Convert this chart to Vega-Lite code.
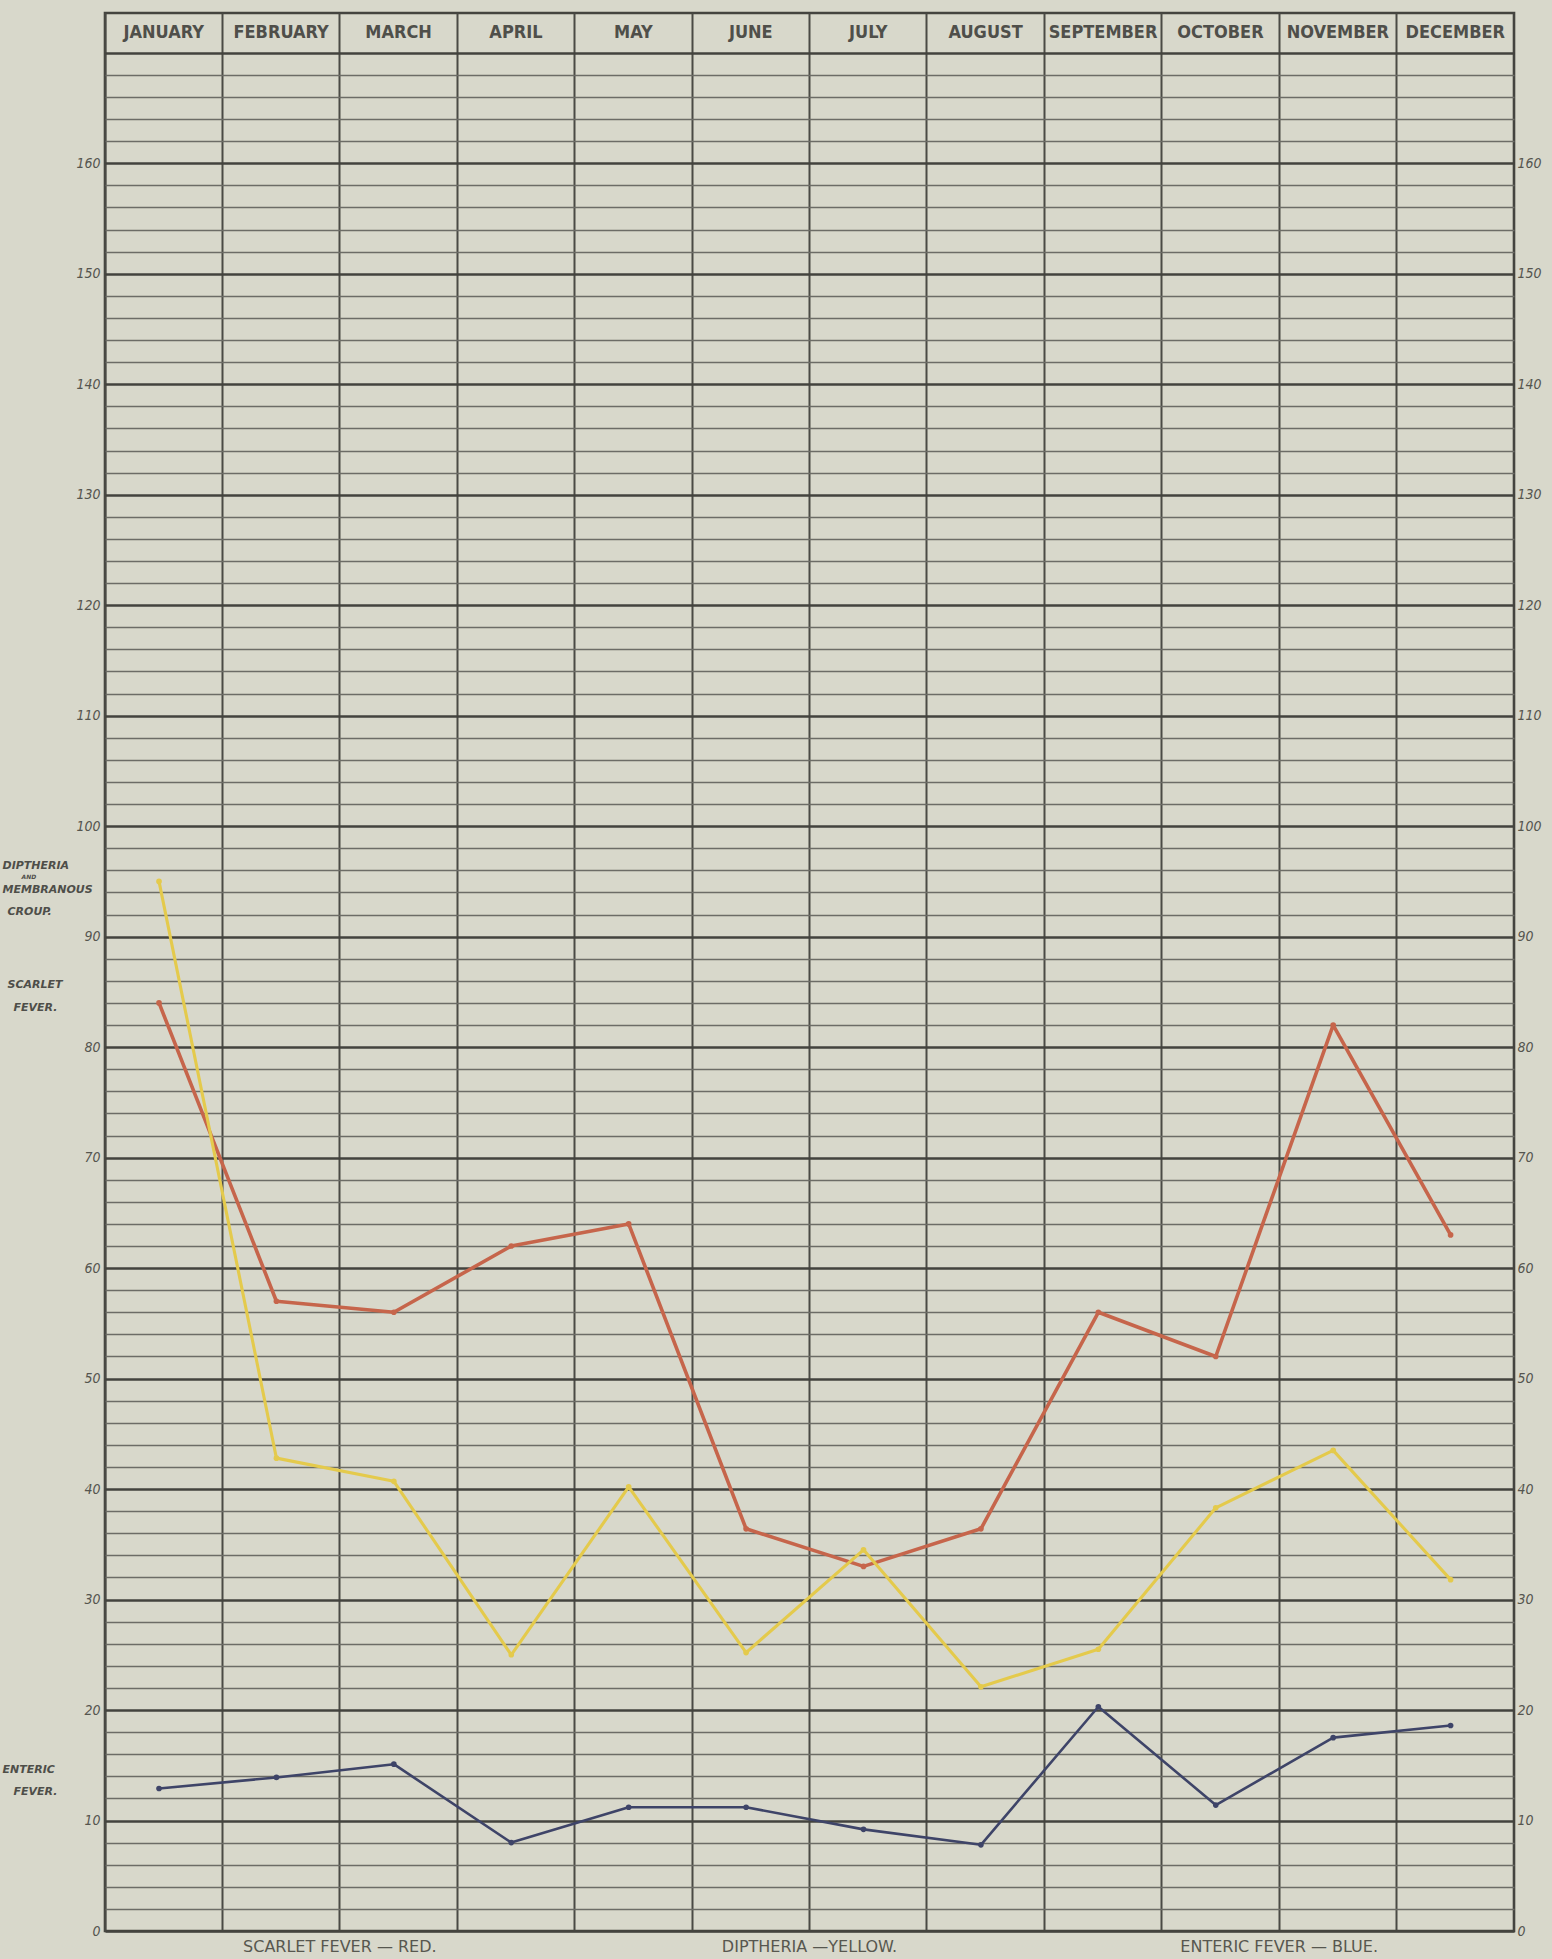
{
  "$schema": "https://vega.github.io/schema/vega-lite/v6.json",
  "width": 1409,
  "height": 1918,
  "autosize": {"type": "none"},
  "padding": {"left": 105, "top": 13, "right": 38, "bottom": 28},
  "background": "#d8d8cb",
  "config": {
    "view": {"stroke": "#44443f", "strokeWidth": 2.6}
  },
  "datasets": {
    "series": [
      {"month": "JANUARY", "series": "Scarlet Fever", "value": 84},
      {"month": "FEBRUARY", "series": "Scarlet Fever", "value": 57},
      {"month": "MARCH", "series": "Scarlet Fever", "value": 56},
      {"month": "APRIL", "series": "Scarlet Fever", "value": 62},
      {"month": "MAY", "series": "Scarlet Fever", "value": 64},
      {"month": "JUNE", "series": "Scarlet Fever", "value": 36.4},
      {"month": "JULY", "series": "Scarlet Fever", "value": 33},
      {"month": "AUGUST", "series": "Scarlet Fever", "value": 36.4},
      {"month": "SEPTEMBER", "series": "Scarlet Fever", "value": 56},
      {"month": "OCTOBER", "series": "Scarlet Fever", "value": 52},
      {"month": "NOVEMBER", "series": "Scarlet Fever", "value": 82},
      {"month": "DECEMBER", "series": "Scarlet Fever", "value": 63},
      {"month": "JANUARY", "series": "Diptheria", "value": 95},
      {"month": "FEBRUARY", "series": "Diptheria", "value": 42.8},
      {"month": "MARCH", "series": "Diptheria", "value": 40.7},
      {"month": "APRIL", "series": "Diptheria", "value": 25},
      {"month": "MAY", "series": "Diptheria", "value": 40.2},
      {"month": "JUNE", "series": "Diptheria", "value": 25.2},
      {"month": "JULY", "series": "Diptheria", "value": 34.5},
      {"month": "AUGUST", "series": "Diptheria", "value": 22.1},
      {"month": "SEPTEMBER", "series": "Diptheria", "value": 25.5},
      {"month": "OCTOBER", "series": "Diptheria", "value": 38.3},
      {"month": "NOVEMBER", "series": "Diptheria", "value": 43.5},
      {"month": "DECEMBER", "series": "Diptheria", "value": 31.8},
      {"month": "JANUARY", "series": "Enteric Fever", "value": 12.9},
      {"month": "FEBRUARY", "series": "Enteric Fever", "value": 13.9},
      {"month": "MARCH", "series": "Enteric Fever", "value": 15.1},
      {"month": "APRIL", "series": "Enteric Fever", "value": 8},
      {"month": "MAY", "series": "Enteric Fever", "value": 11.2},
      {"month": "JUNE", "series": "Enteric Fever", "value": 11.2},
      {"month": "JULY", "series": "Enteric Fever", "value": 9.2},
      {"month": "AUGUST", "series": "Enteric Fever", "value": 7.8},
      {"month": "SEPTEMBER", "series": "Enteric Fever", "value": 20.3},
      {"month": "OCTOBER", "series": "Enteric Fever", "value": 11.4},
      {"month": "NOVEMBER", "series": "Enteric Fever", "value": 17.5},
      {"month": "DECEMBER", "series": "Enteric Fever", "value": 18.6}
    ],
    "months": [
      {"month": "JANUARY"}, {"month": "FEBRUARY"}, {"month": "MARCH"}, {"month": "APRIL"},
      {"month": "MAY"}, {"month": "JUNE"}, {"month": "JULY"}, {"month": "AUGUST"},
      {"month": "SEPTEMBER"}, {"month": "OCTOBER"}, {"month": "NOVEMBER"}, {"month": "DECEMBER"}
    ],
    "legend": [
      {"month": "MARCH", "text": "SCARLET FEVER — RED."},
      {"month": "JULY", "text": "DIPTHERIA —YELLOW."},
      {"month": "NOVEMBER", "text": "ENTERIC FEVER — BLUE."}
    ]
  },
  "resolve": {"axis": {"y": "independent"}},
  "layer": [
    {
      "data": {"name": "series"},
      "mark": {"type": "line", "strokeJoin": "round", "strokeCap": "round"},
      "encoding": {
        "x": {
          "field": "month", "type": "ordinal", "bandPosition": 0.46,
          "scale": {"type": "band", "paddingInner": 0, "paddingOuter": 0,
            "domain": ["JANUARY","FEBRUARY","MARCH","APRIL","MAY","JUNE","JULY","AUGUST","SEPTEMBER","OCTOBER","NOVEMBER","DECEMBER"]},
          "axis": {"orient": "bottom", "grid": true, "bandPosition": 0, "labels": false, "ticks": false, "domain": false, "title": null, "gridColor": "#4a4a45", "gridWidth": 2}
        },
        "y": {
          "field": "value", "type": "quantitative",
          "scale": {"domain": [0, 173.6], "nice": false, "zero": false},
          "axis": {
            "orient": "left",
            "values": [0,2,4,6,8,10,12,14,16,18,20,22,24,26,28,30,32,34,36,38,40,42,44,46,48,50,52,54,56,58,60,62,64,66,68,70,72,74,76,78,80,82,84,86,88,90,92,94,96,98,100,102,104,106,108,110,112,114,116,118,120,122,124,126,128,130,132,134,136,138,140,142,144,146,148,150,152,154,156,158,160,162,164,166,168,170],
            "grid": true,
            "gridColor": {"condition": {"test": "datum.value % 10 === 0", "value": "#43433e"}, "value": "#6c6c66"},
            "gridWidth": {"condition": {"test": "datum.value % 10 === 0", "value": 2.4}, "value": 1.4},
            "labelExpr": "datum.value % 10 === 0 && datum.value <= 160 ? datum.label : ''",
            "ticks": false, "tickSize": 0, "domain": false, "title": null,
            "labelFont": "DejaVu Sans Condensed", "labelFontStyle": "italic", "labelFontSize": 14,
            "labelColor": "#55554f", "labelPadding": 5, "labelOverlap": false
          }
        },
        "color": {
          "field": "series", "type": "nominal",
          "scale": {"domain": ["Scarlet Fever", "Diptheria", "Enteric Fever"], "range": ["#c6654b", "#e4ca4c", "#3e4468"]},
          "legend": null
        },
        "size": {
          "field": "series", "type": "ordinal",
          "scale": {"domain": ["Scarlet Fever", "Diptheria", "Enteric Fever"], "range": [3.6, 2.6, 2.6]},
          "legend": null
        }
      }
    },
    {
      "data": {"name": "series"},
      "mark": {"type": "circle", "opacity": 1},
      "encoding": {
        "x": {
          "field": "month", "type": "ordinal", "bandPosition": 0.46,
          "scale": {"type": "band", "paddingInner": 0, "paddingOuter": 0,
            "domain": ["JANUARY","FEBRUARY","MARCH","APRIL","MAY","JUNE","JULY","AUGUST","SEPTEMBER","OCTOBER","NOVEMBER","DECEMBER"]},
          "axis": {"orient": "bottom", "grid": true, "bandPosition": 0, "labels": false, "ticks": false, "domain": false, "title": null, "gridColor": "#4a4a45", "gridWidth": 2}
        },
        "y": {
          "field": "value", "type": "quantitative",
          "scale": {"domain": [0, 173.6], "nice": false, "zero": false},
          "axis": {
            "orient": "right",
            "values": [0,10,20,30,40,50,60,70,80,90,100,110,120,130,140,150,160],
            "grid": false, "ticks": false, "tickSize": 0, "domain": false, "title": null,
            "labelFont": "DejaVu Sans Condensed", "labelFontStyle": "italic", "labelFontSize": 14,
            "labelColor": "#55554f", "labelPadding": 3, "labelOverlap": false
          }
        },
        "color": {
          "field": "series", "type": "nominal",
          "scale": {"domain": ["Scarlet Fever", "Diptheria", "Enteric Fever"], "range": ["#c6654b", "#e4ca4c", "#3e4468"]},
          "legend": null
        },
        "size": {"value": 32}
      }
    },
    {
      "data": {"name": "months"},
      "mark": {"type": "text", "font": "DejaVu Sans Condensed", "fontWeight": "bold", "fontSize": 18, "color": "#4f4f4a", "baseline": "middle", "align": "center"},
      "encoding": {
        "x": {
          "field": "month", "type": "ordinal", "bandPosition": 0.5,
          "scale": {"type": "band", "paddingInner": 0, "paddingOuter": 0,
            "domain": ["JANUARY","FEBRUARY","MARCH","APRIL","MAY","JUNE","JULY","AUGUST","SEPTEMBER","OCTOBER","NOVEMBER","DECEMBER"]},
          "axis": {"orient": "bottom", "grid": true, "bandPosition": 0, "labels": false, "ticks": false, "domain": false, "title": null, "gridColor": "#4a4a45", "gridWidth": 2}
        },
        "y": {
          "datum": 171.8, "type": "quantitative",
          "scale": {"domain": [0, 173.6], "nice": false, "zero": false},
          "axis": {
            "orient": "left",
            "values": [96.4, 95.4, 94.3, 92.3, 85.7, 83.6, 14.6, 12.6],
            "labelExpr": "datum.value == 96.4 ? 'DIPTHERIA' : datum.value == 95.4 ? 'AND' : datum.value == 94.3 ? 'MEMBRANOUS' : datum.value == 92.3 ? 'CROUP.' : datum.value == 85.7 ? 'SCARLET' : datum.value == 83.6 ? 'FEVER.' : datum.value == 14.6 ? 'ENTERIC' : 'FEVER.'",
            "grid": false, "ticks": false, "tickSize": 0, "domain": false, "title": null,
            "labelAlign": "left", "labelBaseline": "middle",
            "labelFont": "DejaVu Sans", "labelFontStyle": "italic", "labelFontWeight": "bold",
            "labelFontSize": {"condition": {"test": "datum.value == 95.4", "value": 6}, "value": 11},
            "labelPadding": {"condition": [
              {"test": "datum.value == 96.4 || datum.value == 94.3", "value": 103},
              {"test": "datum.value == 95.4", "value": 84},
              {"test": "datum.value == 14.6", "value": 103},
              {"test": "datum.value == 92.3 || datum.value == 85.7", "value": 98}
            ], "value": 92},
            "labelColor": "#4e4e49", "labelOverlap": false
          }
        },
        "text": {"field": "month"}
      }
    },
    {
      "data": {"name": "legend"},
      "mark": {"type": "text", "font": "DejaVu Sans", "fontSize": 16, "color": "#57574f", "baseline": "middle", "align": "center"},
      "encoding": {
        "x": {
          "field": "month", "type": "ordinal", "bandPosition": 0,
          "scale": {"type": "band", "paddingInner": 0, "paddingOuter": 0,
            "domain": ["JANUARY","FEBRUARY","MARCH","APRIL","MAY","JUNE","JULY","AUGUST","SEPTEMBER","OCTOBER","NOVEMBER","DECEMBER"]},
          "axis": {"orient": "bottom", "grid": true, "bandPosition": 0, "labels": false, "ticks": false, "domain": false, "title": null, "gridColor": "#4a4a45", "gridWidth": 2}
        },
        "y": {
          "datum": -1.45, "type": "quantitative",
          "scale": {"domain": [0, 173.6], "nice": false, "zero": false},
          "axis": null
        },
        "text": {"field": "text"}
      }
    }
  ]
}
